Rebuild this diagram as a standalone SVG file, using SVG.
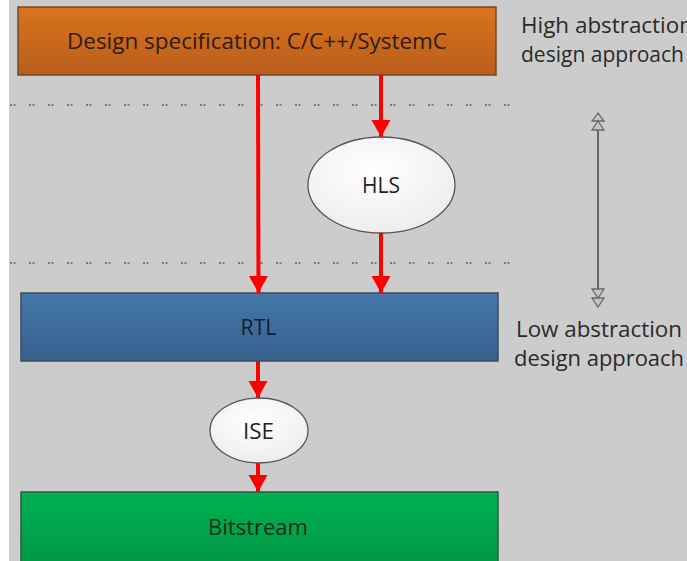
<svg xmlns="http://www.w3.org/2000/svg" width="687" height="561" viewBox="0 0 687 561">
  <defs>
    <linearGradient id="gOrange" x1="0" y1="0" x2="0" y2="1">
      <stop offset="0" stop-color="#d9731f"/>
      <stop offset="1" stop-color="#b95e1a"/>
    </linearGradient>
    <linearGradient id="gBlue" x1="0" y1="0" x2="0" y2="1">
      <stop offset="0" stop-color="#4577aa"/>
      <stop offset="1" stop-color="#365f8b"/>
    </linearGradient>
    <linearGradient id="gGreen" x1="0" y1="0" x2="0" y2="1">
      <stop offset="0" stop-color="#00b152"/>
      <stop offset="1" stop-color="#009546"/>
    </linearGradient>
    <radialGradient id="gWhite" cx="0.45" cy="0.35" r="0.7">
      <stop offset="0" stop-color="#ffffff"/>
      <stop offset="1" stop-color="#ececec"/>
    </radialGradient>
    <marker id="redHead" markerUnits="userSpaceOnUse" markerWidth="20" markerHeight="20" refX="17" refY="9.5" orient="auto">
      <path d="M0,0 L17,9.5 L0,19 Z" fill="#ff0000"/>
    </marker>
    <style>
      .lbl { font-family: "Open Sans", "Noto Sans", sans-serif; font-size: 22px; fill: #222; text-anchor: middle; }
      .side { font-family: "Open Sans", "Noto Sans", sans-serif; font-size: 22px; fill: #2a2a2a; }
      .red { stroke: #ff0000; stroke-width: 4; fill: none; marker-end: url(#redHead); }
      .dots { stroke: #7a7a7a; stroke-width: 2; stroke-dasharray: 2 1.5 2 13.5; fill: none; }
      .ell { fill: url(#gWhite); stroke: #555; stroke-width: 1.3; }
      .tri { fill: #c4c4c4; stroke: #6a6a6a; stroke-width: 1.3; }
    </style>
  </defs>

  <rect x="0" y="0" width="687" height="561" fill="#ffffff"/>
  <rect x="9" y="0" width="678" height="561" fill="#cccccc"/>

  <!-- separator dotted lines -->
  <path class="dots" d="M10,105 L512,105"/>
  <path class="dots" d="M10,263 L512,263"/>

  <g id="spec">
    <rect x="18" y="7" width="478" height="68" fill="url(#gOrange)" stroke="#6e4a2a" stroke-width="1.5"/>
    <text class="lbl" x="257" y="49" textLength="380" lengthAdjust="spacingAndGlyphs" style="fill:#2e1c0c">Design specification: C/C++/SystemC</text>
  </g>

  <g id="hls">
    <ellipse class="ell" cx="381.5" cy="185" rx="73.5" ry="48"/>
    <text class="lbl" x="381" y="193" textLength="38" lengthAdjust="spacingAndGlyphs">HLS</text>
  </g>

  <g id="rtl">
    <rect x="21" y="293" width="477" height="68" fill="url(#gBlue)" stroke="#3d4d5e" stroke-width="1.5"/>
    <text class="lbl" x="258.5" y="335" textLength="36" lengthAdjust="spacingAndGlyphs" style="fill:#0f1e30">RTL</text>
  </g>

  <g id="ise">
    <ellipse class="ell" cx="259" cy="430.5" rx="49" ry="32.5"/>
    <text class="lbl" x="258.5" y="439" textLength="31" lengthAdjust="spacingAndGlyphs">ISE</text>
  </g>

  <g id="bitstream">
    <rect x="21" y="492" width="477" height="80" fill="url(#gGreen)" stroke="#2e5a3e" stroke-width="1.5"/>
    <text class="lbl" x="258" y="535" textLength="100" lengthAdjust="spacingAndGlyphs" style="fill:#0a2e14">Bitstream</text>
  </g>

  <g id="high-label">
    <text class="side" x="521" y="33" textLength="172" lengthAdjust="spacingAndGlyphs">High abstraction</text>
    <text class="side" x="521" y="62" textLength="163" lengthAdjust="spacingAndGlyphs">design approach</text>
  </g>

  <g id="low-label">
    <text class="side" x="516" y="337" textLength="166" lengthAdjust="spacingAndGlyphs">Low abstraction</text>
    <text class="side" x="514" y="366" textLength="170" lengthAdjust="spacingAndGlyphs">design approach</text>
  </g>

  <g id="connectors">
    <path class="red" d="M258,75 L258.5,293"/>
    <path class="red" d="M381,75 L381,137"/>
    <path class="red" d="M381,233 L381,293"/>
    <path class="red" d="M258,361 L258,398"/>
    <path class="red" d="M258,463 L258,492"/>
    <!-- abstraction double arrow -->
    <line x1="598" y1="121" x2="598" y2="298" stroke="#666" stroke-width="2"/>
    <path class="tri" d="M598,113 L604,121 L592,121 Z"/>
    <path class="tri" d="M598,121 L604,130 L592,130 Z"/>
    <path class="tri" d="M592,289 L604,289 L598,298 Z"/>
    <path class="tri" d="M592,298 L604,298 L598,307 Z"/>
  </g>
</svg>
